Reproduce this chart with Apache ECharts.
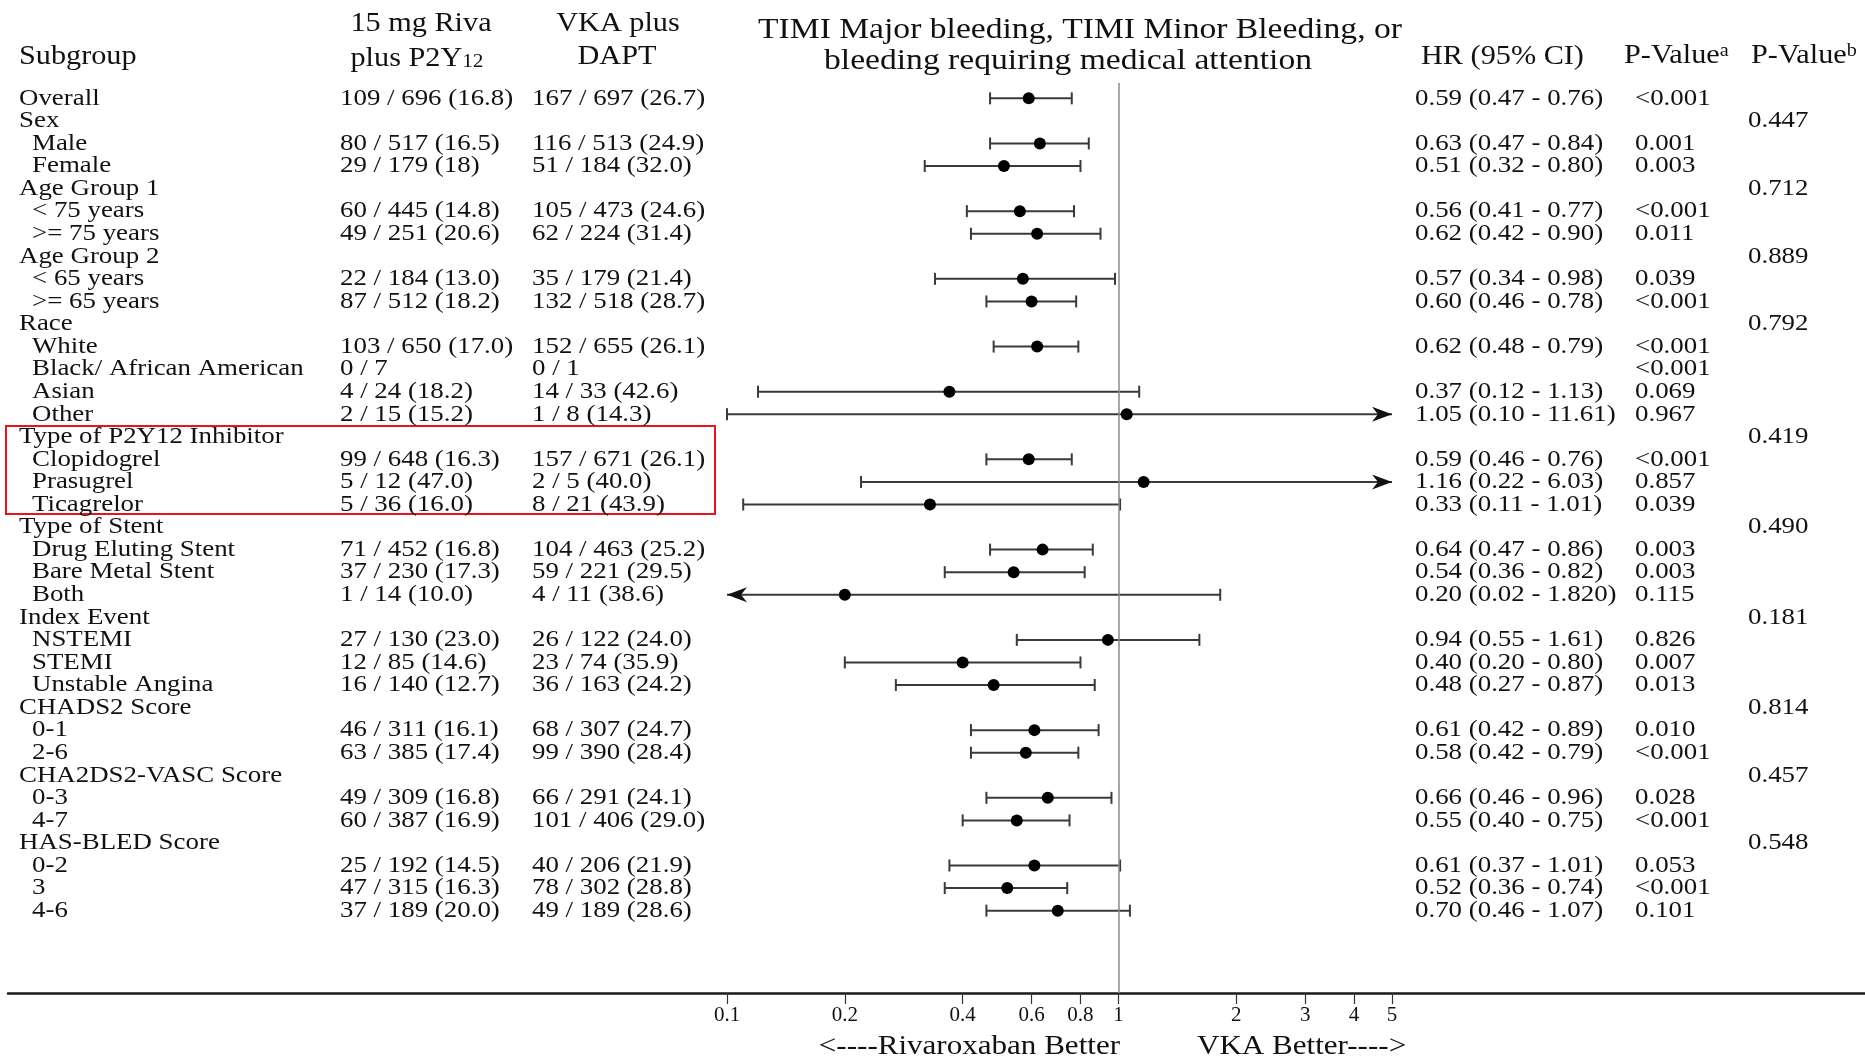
<!DOCTYPE html>
<html>
<head>
<meta charset="utf-8">
<script src="https://cdn.jsdelivr.net/npm/echarts@6/dist/echarts.min.js"></script>
<style>
  html, body { margin: 0; padding: 0; background: #fff; }
  #chart { width: 1865px; height: 1059px; }
</style>
</head>
<body>
<div id="chart"></div>
<script>
var rowLabels = ['Overall', 'Sex', 'Male', 'Female', 'Age Group 1', '< 75 years', '>= 75 years',
  'Age Group 2', '< 65 years', '>= 65 years', 'Race', 'White', 'Black/ African American', 'Asian', 'Other',
  'Type of P2Y12 Inhibitor', 'Clopidogrel', 'Prasugrel', 'Ticagrelor', 'Type of Stent',
  'Drug Eluting Stent', 'Bare Metal Stent', 'Both', 'Index Event', 'NSTEMI', 'STEMI', 'Unstable Angina',
  'CHADS2 Score', '0-1', '2-6', 'CHA2DS2-VASC Score', '0-3', '4-7', 'HAS-BLED Score', '0-2', '3', '4-6'];
// 0 = group heading, 1 = indented subgroup
var rowLevel = [0, 0, 1, 1, 0, 1, 1, 0, 1, 1, 0, 1, 1, 1, 1, 0, 1, 1, 1, 0, 1, 1, 1, 0, 1, 1, 1,
  0, 1, 1, 0, 1, 1, 0, 1, 1, 1];
var rivaText = ['109 / 696 (16.8)', '', '80 / 517 (16.5)', '29 / 179 (18)', '', '60 / 445 (14.8)', '49 / 251 (20.6)',
  '', '22 / 184 (13.0)', '87 / 512 (18.2)', '', '103 / 650 (17.0)', '0 / 7', '4 / 24 (18.2)', '2 / 15 (15.2)',
  '', '99 / 648 (16.3)', '5 / 12 (47.0)', '5 / 36 (16.0)', '', '71 / 452 (16.8)', '37 / 230 (17.3)', '1 / 14 (10.0)',
  '', '27 / 130 (23.0)', '12 / 85 (14.6)', '16 / 140 (12.7)', '', '46 / 311 (16.1)', '63 / 385 (17.4)',
  '', '49 / 309 (16.8)', '60 / 387 (16.9)', '', '25 / 192 (14.5)', '47 / 315 (16.3)', '37 / 189 (20.0)'];
var vkaText = ['167 / 697 (26.7)', '', '116 / 513 (24.9)', '51 / 184 (32.0)', '', '105 / 473 (24.6)', '62 / 224 (31.4)',
  '', '35 / 179 (21.4)', '132 / 518 (28.7)', '', '152 / 655 (26.1)', '0 / 1', '14 / 33 (42.6)', '1 / 8 (14.3)',
  '', '157 / 671 (26.1)', '2 / 5 (40.0)', '8 / 21 (43.9)', '', '104 / 463 (25.2)', '59 / 221 (29.5)', '4 / 11 (38.6)',
  '', '26 / 122 (24.0)', '23 / 74 (35.9)', '36 / 163 (24.2)', '', '68 / 307 (24.7)', '99 / 390 (28.4)',
  '', '66 / 291 (24.1)', '101 / 406 (29.0)', '', '40 / 206 (21.9)', '78 / 302 (28.8)', '49 / 189 (28.6)'];
var hrValue = [0.59, null, 0.63, 0.51, null, 0.56, 0.62, null, 0.57, 0.60, null, 0.62, null, 0.37, 1.05,
  null, 0.59, 1.16, 0.33, null, 0.64, 0.54, 0.20, null, 0.94, 0.40, 0.48, null, 0.61, 0.58,
  null, 0.66, 0.55, null, 0.61, 0.52, 0.70];
var ciLow = [0.47, null, 0.47, 0.32, null, 0.41, 0.42, null, 0.34, 0.46, null, 0.48, null, 0.12, 0.10,
  null, 0.46, 0.22, 0.11, null, 0.47, 0.36, 0.02, null, 0.55, 0.20, 0.27, null, 0.42, 0.42,
  null, 0.46, 0.40, null, 0.37, 0.36, 0.46];
var ciHigh = [0.76, null, 0.84, 0.80, null, 0.77, 0.90, null, 0.98, 0.78, null, 0.79, null, 1.13, 11.61,
  null, 0.76, 6.03, 1.01, null, 0.86, 0.82, 1.82, null, 1.61, 0.80, 0.87, null, 0.89, 0.79,
  null, 0.96, 0.75, null, 1.01, 0.74, 1.07];
var hrText = ['0.59 (0.47 - 0.76)', '', '0.63 (0.47 - 0.84)', '0.51 (0.32 - 0.80)', '', '0.56 (0.41 - 0.77)',
  '0.62 (0.42 - 0.90)', '', '0.57 (0.34 - 0.98)', '0.60 (0.46 - 0.78)', '', '0.62 (0.48 - 0.79)', '',
  '0.37 (0.12 - 1.13)', '1.05 (0.10 - 11.61)', '', '0.59 (0.46 - 0.76)', '1.16 (0.22 - 6.03)',
  '0.33 (0.11 - 1.01)', '', '0.64 (0.47 - 0.86)', '0.54 (0.36 - 0.82)', '0.20 (0.02 - 1.820)', '',
  '0.94 (0.55 - 1.61)', '0.40 (0.20 - 0.80)', '0.48 (0.27 - 0.87)', '', '0.61 (0.42 - 0.89)',
  '0.58 (0.42 - 0.79)', '', '0.66 (0.46 - 0.96)', '0.55 (0.40 - 0.75)', '', '0.61 (0.37 - 1.01)',
  '0.52 (0.36 - 0.74)', '0.70 (0.46 - 1.07)'];
var pValueA = ['<0.001', '', '0.001', '0.003', '', '<0.001', '0.011', '', '0.039', '<0.001', '', '<0.001',
  '<0.001', '0.069', '0.967', '', '<0.001', '0.857', '0.039', '', '0.003', '0.003', '0.115', '', '0.826',
  '0.007', '0.013', '', '0.010', '<0.001', '', '0.028', '<0.001', '', '0.053', '<0.001', '0.101'];
var pValueB = ['', '0.447', '', '', '0.712', '', '', '0.889', '', '', '0.792', '', '', '', '',
  '0.419', '', '', '', '0.490', '', '', '', '0.181', '', '', '', '0.814', '', '', '0.457', '', '', '0.548',
  '', '', ''];
var tickValues = [0.1, 0.2, 0.4, 0.6, 0.8, 1, 2, 3, 4, 5];
var tickLabels = ['0.1', '0.2', '0.4', '0.6', '0.8', '1', '2', '3', '4', '5'];

var FONT = '"Liberation Serif", "Times New Roman", serif';
var INK = '#111';
var STRETCH = 1.12; // the source type is set a little wide
var LMIN = Math.log10(0.1), LMAX = Math.log10(5);

var myChart = echarts.init(document.getElementById('chart'));

var ciData = [];
for (var i = 0; i < rowLabels.length; i++) {
  if (hrValue[i] != null) {
    ciData.push([Math.log10(ciLow[i]), Math.log10(ciHigh[i]), i, Math.log10(hrValue[i])]);
  }
}
var textData = rowLabels.map(function (l, i) { return [0, i]; });

function renderText(params, api) {
  var i = params.dataIndex;
  var y = api.coord([0, api.value(1)])[1];
  var cols = [
    [rowLevel[i] ? 32 : 19, rowLabels[i]],
    [340, rivaText[i]],
    [532, vkaText[i]],
    [1415, hrText[i]],
    [1635, pValueA[i]],
    [1748, pValueB[i]]
  ];
  var kids = [];
  cols.forEach(function (c) {
    if (!c[1]) return;
    kids.push({
      type: 'text', x: c[0], y: y, scaleX: STRETCH,
      style: { text: c[1], x: 0, y: 0, font: '24px ' + FONT, fill: INK, textVerticalAlign: 'middle' }
    });
  });
  return { type: 'group', children: kids };
}

function arrowHead(x, y, dir) {
  return {
    type: 'polygon',
    shape: { points: [[x, y], [x - dir * 20, y - 7.5], [x - dir * 14, y], [x - dir * 20, y + 7.5]] },
    style: { fill: '#111' }
  };
}

function renderCI(params, api) {
  var lo = api.value(0), hi = api.value(1), row = api.value(2), hr = api.value(3);
  var p1 = api.coord([Math.max(lo, LMIN), row]);
  var p2 = api.coord([Math.min(hi, LMAX), row]);
  var pm = api.coord([hr, row]);
  var y = p1[1];
  var st = { stroke: '#3a3a3a', lineWidth: 2 };
  var kids = [{ type: 'line', shape: { x1: p1[0], y1: y, x2: p2[0], y2: y }, style: st }];
  if (lo < LMIN - 1e-6) kids.push(arrowHead(p1[0], y, -1));
  else kids.push({ type: 'line', shape: { x1: p1[0], y1: y - 6, x2: p1[0], y2: y + 6 }, style: st });
  if (hi > LMAX + 1e-6) kids.push(arrowHead(p2[0], y, 1));
  else kids.push({ type: 'line', shape: { x1: p2[0], y1: y - 6, x2: p2[0], y2: y + 6 }, style: st });
  kids.push({ type: 'circle', shape: { cx: pm[0], cy: y, r: 6 }, style: { fill: '#000' } });
  return { type: 'group', children: kids };
}

function headText(x, y, text, size, align, scale, rich) {
  return {
    type: 'text', x: x, y: y, scaleX: scale || STRETCH,
    style: {
      text: text, x: 0, y: 0, font: size + 'px ' + FONT, fill: INK,
      textAlign: align || 'left', textVerticalAlign: 'middle', rich: rich
    }
  };
}
var subRich = {
  a: { fontSize: 27, fontFamily: FONT, lineHeight: 30, verticalAlign: 'bottom' },
  s: { fontSize: 19, fontFamily: FONT, lineHeight: 10, verticalAlign: 'bottom' }
};
var supRich = {
  a: { fontSize: 27, fontFamily: FONT, lineHeight: 30, verticalAlign: 'top' },
  s: { fontSize: 18, fontFamily: FONT, lineHeight: 12, verticalAlign: 'top' }
};

var option = {
  animation: false,
  backgroundColor: '#fff',
  grid: [
    { left: 727, right: 473, top: 83, bottom: 66 },
    { left: 8, right: 0, top: 83, bottom: 66 }
  ],
  xAxis: [{
    gridIndex: 0,
    type: 'value',
    position: 'bottom',
    min: LMIN,
    max: LMAX,
    axisLine: { show: false, onZero: false },
    splitLine: { show: false },
    axisTick: {
      show: true, length: 11,
      customValues: tickValues.map(Math.log10),
      lineStyle: { color: '#333', width: 1.2 }
    },
    axisLabel: {
      show: true, margin: 12,
      customValues: tickValues.map(Math.log10),
      fontFamily: FONT, fontSize: 21, color: INK,
      formatter: function (v) {
        for (var k = 0; k < tickValues.length; k++) {
          if (Math.abs(Math.log10(tickValues[k]) - v) < 1e-6) return tickLabels[k];
        }
        return '';
      }
    }
  }, {
    gridIndex: 1,
    type: 'value',
    position: 'bottom',
    min: 0, max: 1,
    axisLine: { show: true, onZero: false, lineStyle: { color: '#1a1a1a', width: 2.5 } },
    axisTick: { show: false },
    axisLabel: { show: false },
    splitLine: { show: false }
  }],
  yAxis: [{
    gridIndex: 0, type: 'value', inverse: true, min: -0.68, max: 39.65, show: false
  }, {
    gridIndex: 1, type: 'value', min: 0, max: 1, show: false
  }],
  graphic: [
    headText(19, 57, 'Subgroup', 27),
    headText(421, 24, '15 mg Riva', 27, 'center'),
    headText(417, 57, '{a|plus P2Y}{s|12}', 27, 'center', STRETCH, subRich),
    headText(618, 24, 'VKA plus', 27, 'center'),
    headText(617, 57, 'DAPT', 27, 'center'),
    headText(1080, 30, 'TIMI Major bleeding, TIMI Minor Bleeding, or', 30, 'center'),
    headText(1068, 61, 'bleeding requiring medical attention', 30, 'center'),
    headText(1421, 57, 'HR (95% CI)', 27),
    headText(1624, 57, '{a|P-Value}{s|a}', 27, 'left', STRETCH, supRich),
    headText(1751, 57, '{a|P-Value}{s|b}', 27, 'left', STRETCH, supRich),
    headText(1120, 1047, '<----Rivaroxaban Better', 27, 'right', 1.15),
    headText(1197, 1047, 'VKA Better---->', 27, 'left', 1.15),
    {
      type: 'rect',
      shape: { x: 6, y: 426, width: 709, height: 88 },
      style: { fill: 'none', stroke: '#e8141b', lineWidth: 2 }
    }
  ],
  series: [{
    type: 'custom',
    name: 'ci',
    xAxisIndex: 0, yAxisIndex: 0,
    renderItem: renderCI,
    data: ciData,
    z: 3,
    markLine: {
      silent: true,
      symbol: 'none',
      label: { show: false },
      lineStyle: { color: '#8a8a8a', width: 1.5, type: 'solid' },
      data: [{ xAxis: 0 }]
    }
  }, {
    type: 'custom',
    name: 'text',
    xAxisIndex: 0, yAxisIndex: 0,
    renderItem: renderText,
    data: textData,
    z: 4
  }]
};

myChart.setOption(option);
</script>
</body>
</html>
